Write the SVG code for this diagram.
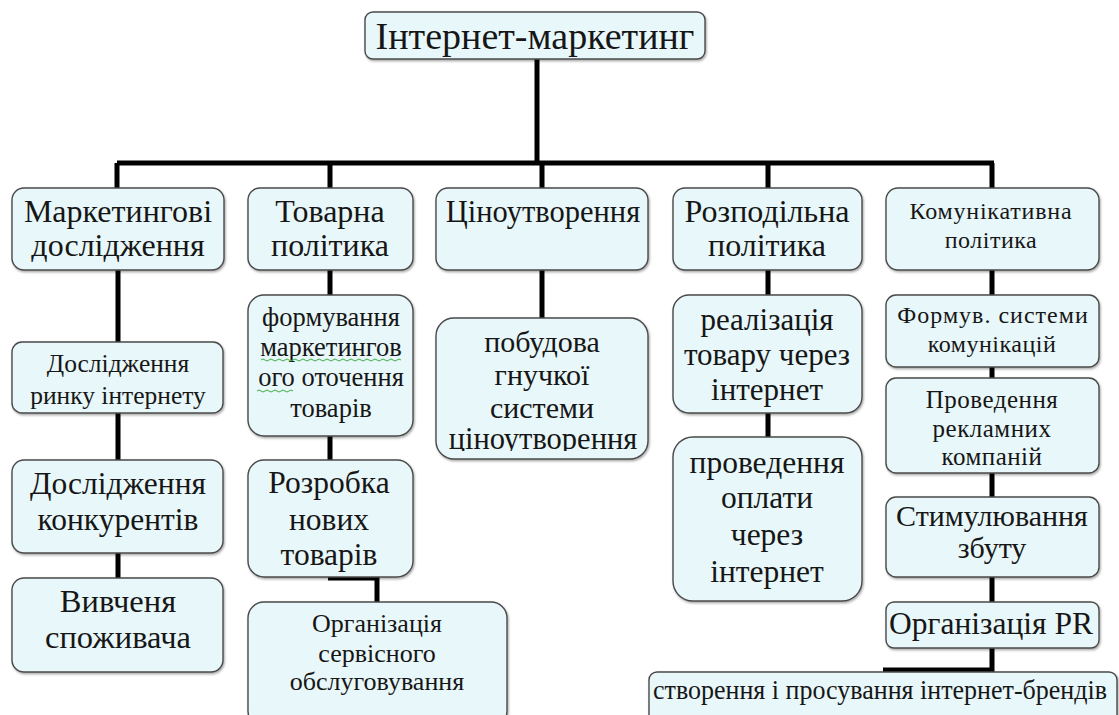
<svg xmlns="http://www.w3.org/2000/svg" width="1119" height="715" viewBox="0 0 1119 715">
<style>
.box{fill:#e8f7f9;stroke:#4a4a4a;stroke-width:1.4;filter:url(#sh)}
.c{fill:none;stroke:#000;stroke-width:5;stroke-linecap:butt}
text{font-family:"Liberation Serif","Times New Roman",serif;fill:#161616;text-anchor:middle}
.squig{fill:none;stroke:#3cb043;stroke-width:1}
</style>
<defs>
<filter id="sh" x="-5%" y="-5%" width="115%" height="115%">
<feDropShadow dx="1" dy="1.5" stdDeviation="0.8" flood-color="#000" flood-opacity="0.35"/>
</filter>
<clipPath id="clipPrice"><rect x="436" y="318" width="212" height="133"/></clipPath>
</defs>
<rect width="1119" height="715" fill="#fff"/>

<g id="connectors">
<path class="c" d="M537 58V163M117 163H994M117 163V188M330 163V188M542 163V188M768 163V188M992 163V188"/>
<path class="c" d="M118 270V342M118 413V460M118 553V578"/>
<path class="c" d="M330 270V295M330 436V460M328 578H377V602"/>
<path class="c" d="M542 270V318"/>
<path class="c" d="M768 270V295M768 413V437"/>
<path class="c" d="M992 270V295M992 367V378M992 473V497M992 577V602M992 648V670H883"/>
</g>

<g id="root">
<rect class="box" x="365" y="12" width="340" height="47" rx="8"/>
<text x="535" y="49" font-size="38">Інтернет-маркетинг</text>
</g>

<g id="n-research">
<rect class="box" x="12" y="188" width="212" height="82" rx="12"/>
<text x="118" y="222" font-size="32">Маркетингові</text>
<text x="118" y="256" font-size="32">дослідження</text>
</g>
<g id="n-product">
<rect class="box" x="248" y="188" width="165" height="82" rx="12"/>
<text x="330" y="222" font-size="32">Товарна</text>
<text x="330" y="256" font-size="32">політика</text>
</g>
<g id="n-price">
<rect class="box" x="436" y="188" width="212" height="82" rx="12"/>
<text x="543" y="222" font-size="30.5">Ціноутворення</text>
</g>
<g id="n-distrib">
<rect class="box" x="673" y="188" width="189" height="82" rx="12"/>
<text x="767" y="222" font-size="32">Розподільна</text>
<text x="767" y="256" font-size="32">політика</text>
</g>
<g id="n-comm">
<rect class="box" x="886" y="188" width="213" height="82" rx="12"/>
<text x="991" y="219" font-size="24" letter-spacing="0.8">Комунікативна</text>
<text x="991" y="248" font-size="24" letter-spacing="0.5">політика</text>
</g>

<g id="n-market">
<rect class="box" x="12" y="342" width="211" height="71" rx="10"/>
<text x="118" y="372" font-size="25.5">Дослідження</text>
<text x="118" y="404" font-size="25.5">ринку інтернету</text>
</g>
<g id="n-compet">
<rect class="box" x="12" y="460" width="211" height="93" rx="12"/>
<text x="118" y="494" font-size="31.5">Дослідження</text>
<text x="118" y="530" font-size="31.5">конкурентів</text>
</g>
<g id="n-consumer">
<rect class="box" x="12" y="578" width="211" height="94" rx="12"/>
<text x="118" y="612" font-size="32.5">Вивченя</text>
<text x="118" y="648" font-size="32.5">споживача</text>
</g>

<g id="n-environ">
<rect class="box" x="248" y="295" width="165" height="141" rx="16"/>
<text x="331" y="326" font-size="26.5">формування</text>
<text x="331" y="356" font-size="26.5">маркетингов</text>
<text x="331" y="386" font-size="26.5">ого оточення</text>
<text x="331" y="417" font-size="26.5">товарів</text>
<path class="squig" d="M261 360q2 -2 4 0t4 0t4 0t4 0t4 0t4 0t4 0t4 0t4 0t4 0t4 0t4 0t4 0t4 0t4 0t4 0t4 0t4 0t4 0t4 0t4 0t4 0t4 0t4 0t4 0t4 0t4 0t4 0t4 0t4 0t4 0t4 0t4 0t4 0t4 0M257 391q2 -2 4 0t4 0t4 0t4 0t4 0t4 0t4 0t4 0t4 0"/>
</g>
<g id="n-newprod">
<rect class="box" x="248" y="460" width="165" height="117" rx="16"/>
<text x="329" y="493" font-size="31.5">Розробка</text>
<text x="329" y="530" font-size="31.5">нових</text>
<text x="329" y="565" font-size="31.5">товарів</text>
</g>
<g id="n-service">
<rect class="box" x="248" y="602" width="259" height="125" rx="16"/>
<text x="377" y="632" font-size="26">Організація</text>
<text x="377" y="662" font-size="26">сервісного</text>
<text x="377" y="690" font-size="26">обслуговування</text>
</g>

<g id="n-flex">
<rect class="box" x="436" y="318" width="212" height="141" rx="18"/>
<g clip-path="url(#clipPrice)">
<text x="542" y="352" font-size="30">побудова</text>
<text x="542" y="385" font-size="30">гнучкої</text>
<text x="542" y="418" font-size="30">системи</text>
<text x="543" y="449" font-size="30.5">ціноутворення</text>
</g>
</g>

<g id="n-sale">
<rect class="box" x="673" y="295" width="189" height="118" rx="16"/>
<text x="767" y="330" font-size="31">реалізація</text>
<text x="767" y="365" font-size="31">товару через</text>
<text x="767" y="400" font-size="31">інтернет</text>
</g>
<g id="n-pay">
<rect class="box" x="673" y="437" width="189" height="164" rx="20"/>
<text x="767" y="473" font-size="31.5">проведення</text>
<text x="767" y="508" font-size="31.5">оплати</text>
<text x="767" y="545" font-size="31.5">через</text>
<text x="767" y="582" font-size="31.5">інтернет</text>
</g>

<g id="n-system">
<rect class="box" x="886" y="295" width="213" height="72" rx="10"/>
<text x="993" y="323" font-size="24" letter-spacing="1">Формув. системи</text>
<text x="992" y="352" font-size="24" letter-spacing="0.5">комунікацій</text>
</g>
<g id="n-ads">
<rect class="box" x="886" y="378" width="213" height="95" rx="10"/>
<text x="992" y="408" font-size="25" letter-spacing="0.5">Проведення</text>
<text x="992" y="437" font-size="25" letter-spacing="0.5">рекламних</text>
<text x="992" y="465" font-size="25" letter-spacing="0.5">компаній</text>
</g>
<g id="n-stim">
<rect class="box" x="886" y="497" width="213" height="80" rx="10"/>
<text x="992" y="526" font-size="30">Стимулювання</text>
<text x="992" y="558" font-size="30">збуту</text>
</g>
<g id="n-pr">
<rect class="box" x="886" y="602" width="213" height="46" rx="8"/>
<text x="991" y="634" font-size="31.5">Організація PR</text>
</g>
<g id="n-brand">
<rect class="box" x="649" y="672" width="468" height="60" rx="8"/>
<text x="880" y="699" font-size="26.5" textLength="454" lengthAdjust="spacingAndGlyphs">створення і просування інтернет-брендів</text>
</g>
</svg>
